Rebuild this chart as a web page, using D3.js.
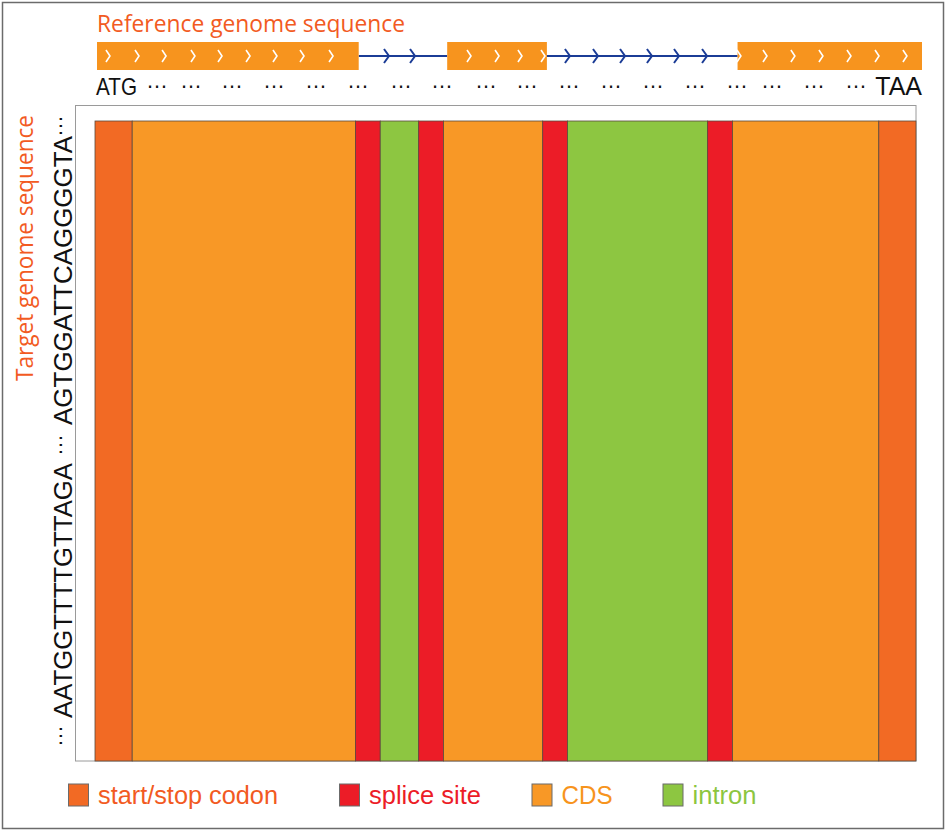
<!DOCTYPE html>
<html>
<head>
<meta charset="utf-8">
<script src="https://cdn.jsdelivr.net/npm/d3@7"></script>
<style>
  body { margin: 0; background: #fff; }
  svg { display: block; }
</style>
</head>
<body>
<svg id="chart" width="947" height="834"></svg>
<script>
// segments of the aligned gene, lengths in bp (left to right)
const segTypes   = ["start", "cds", "splice", "intron", "splice", "cds", "splice", "intron", "splice", "cds", "stop"];
const segLengths = [3, 18, 2, 3.1, 2, 8, 2, 11.3, 2, 11.8, 3];

// reference gene model: which segments form each exon / intron
const exonGroups   = [[0, 1], [5, 5], [9, 10]];
const intronGroups = [[2, 4], [6, 8]];

// direction marks along the reference model (bp)
const exonChevrons = [0.88, 3.21, 5.38, 7.70, 9.87, 12.12, 14.28, 16.45, 18.78,
                      29.85, 32.10, 33.94, 35.79,
                      51.51, 53.60, 55.84, 58.09, 60.34, 62.59, 64.83];
const intronArrows = [23.27, 25.36, 37.79, 40.04, 42.21, 44.37, 46.54, 48.79];

// "..." placeholders under the reference model (bp)
const refDots = [4.81, 7.54, 10.83, 14.20, 17.57, 20.94, 24.39, 27.68, 31.21, 34.50,
                 37.87, 41.24, 44.61, 47.98, 51.35, 54.16, 57.53, 60.90];

// target sequence pieces, bottom to top, with offset along the axis and length
const targetPieces  = ["…", "AATGGTTTTGTTAGA", "…", "AGTGGATTCAGGGGTA", "…"];
const targetOffsets = [3, 32, 294, 325, 613];
const targetLengths = [null, 255, null, 289, null];

const legendKeys   = ["start", "splice", "cds", "intron"];
const legendLabels = ["start/stop codon", "splice site", "CDS", "intron"];

const fillColor = {
  start: "#f26a24", stop: "#f26a24", cds: "#f89826",
  splice: "#ec1c27", intron: "#8dc641"
};
const textColor = {
  start: "#f25a22", splice: "#ec1c27", cds: "#f7941d", intron: "#8dc63f"
};

const svg = d3.select("#chart");

// cumulative segment positions
let acc = 0;
const segments = segLengths.map((len, i) => {
  const s = { type: segTypes[i], start: acc, end: acc + len };
  acc += len;
  return s;
});
const total = acc;

const x = d3.scaleLinear().domain([0, total]).range([95, 916]);
const xRef = d3.scaleLinear().domain([0, total]).range([97, 922]);
const y = d3.scaleLinear().domain([0, 1]).range([761, 121]);

// outer border
svg.append("rect")
  .attr("x", 2.5).attr("y", 2.5)
  .attr("width", 941).attr("height", 826)
  .attr("fill", "none")
  .attr("stroke", "#6b6b6b")
  .attr("stroke-width", 1.5);

// dot plot frame
svg.append("rect")
  .attr("x", 75.5).attr("y", 105.5)
  .attr("width", 840.5).attr("height", 655.5)
  .attr("fill", "none")
  .attr("stroke", "#9a9a9a")
  .attr("stroke-width", 1);

// aligned segments
svg.append("g").selectAll("rect")
  .data(segments)
  .join("rect")
  .attr("x", d => x(d.start))
  .attr("y", y(1))
  .attr("width", d => x(d.end) - x(d.start))
  .attr("height", y(0) - y(1))
  .attr("fill", d => fillColor[d.type])
  .attr("stroke", "#5b4a3c")
  .attr("stroke-width", 0.8);

// ---- reference gene model on top ----
const model = svg.append("g");
const lineY = 56;

const introns = intronGroups.map(g => ({ start: segments[g[0]].start, end: segments[g[1]].end }));
model.selectAll("line.intron")
  .data(introns)
  .join("line")
  .attr("class", "intron")
  .attr("x1", d => xRef(d.start)).attr("x2", d => xRef(d.end))
  .attr("y1", lineY).attr("y2", lineY)
  .attr("stroke", "#1b3c96")
  .attr("stroke-width", 2);

model.selectAll("path.arrow")
  .data(intronArrows)
  .join("path")
  .attr("class", "arrow")
  .attr("d", d => `M${xRef(d) - 3},${lineY - 7} L${xRef(d) + 2},${lineY} L${xRef(d) - 3},${lineY + 7}`)
  .attr("fill", "none")
  .attr("stroke", "#1b3c96")
  .attr("stroke-width", 2);

const exons = exonGroups.map(g => ({ start: segments[g[0]].start, end: segments[g[1]].end }));
model.selectAll("rect.exon")
  .data(exons)
  .join("rect")
  .attr("class", "exon")
  .attr("x", d => xRef(d.start))
  .attr("y", 42)
  .attr("width", d => xRef(d.end) - xRef(d.start))
  .attr("height", 28)
  .attr("fill", "#f7941e");

model.selectAll("path.chev")
  .data(exonChevrons)
  .join("path")
  .attr("class", "chev")
  .attr("d", d => `M${xRef(d) - 2},${lineY - 6} L${xRef(d) + 2},${lineY} L${xRef(d) - 2},${lineY + 6}`)
  .attr("fill", "none")
  .attr("stroke", "#fff")
  .attr("stroke-width", 1.6);

svg.append("text")
  .attr("x", 97).attr("y", 32)
  .attr("font-family", "Open Sans, Noto Sans, sans-serif")
  .attr("font-size", 23)
  .attr("fill", "#f25a22")
  .attr("textLength", 308)
  .attr("lengthAdjust", "spacingAndGlyphs")
  .text("Reference genome sequence");

const seqFont = "Liberation Sans, Arial, sans-serif";

svg.append("text")
  .attr("x", 96).attr("y", 95)
  .attr("font-family", seqFont)
  .attr("font-size", 24)
  .attr("fill", "#111")
  .attr("textLength", 41)
  .attr("lengthAdjust", "spacingAndGlyphs")
  .text("ATG");

svg.append("text")
  .attr("x", 922).attr("y", 95)
  .attr("text-anchor", "end")
  .attr("font-family", seqFont)
  .attr("font-size", 25)
  .attr("fill", "#111")
  .text("TAA");

svg.append("g").selectAll("text")
  .data(refDots)
  .join("text")
  .attr("x", d => xRef(d))
  .attr("y", 88)
  .attr("text-anchor", "middle")
  .attr("font-family", seqFont)
  .attr("font-size", 22)
  .attr("fill", "#111")
  .text("…");

// ---- target sequence on the left (rotated) ----
svg.append("text")
  .attr("transform", "translate(33,381) rotate(-90)")
  .attr("font-family", "Open Sans, Noto Sans, sans-serif")
  .attr("font-size", 23)
  .attr("fill", "#f25a22")
  .attr("textLength", 266)
  .attr("lengthAdjust", "spacingAndGlyphs")
  .text("Target genome sequence");

const target = svg.append("g")
  .attr("transform", "translate(72,750) rotate(-90)");

target.selectAll("text")
  .data(targetPieces)
  .join("text")
  .attr("x", (d, i) => targetOffsets[i])
  .attr("y", d => d === "…" ? -10 : 0)
  .attr("font-family", seqFont)
  .attr("font-size", d => d === "…" ? 22 : 25)
  .attr("fill", "#111")
  .each(function (d, i) {
    if (targetLengths[i]) {
      d3.select(this)
        .attr("textLength", targetLengths[i])
        .attr("lengthAdjust", "spacingAndGlyphs");
    }
  })
  .text(d => d);

// ---- legend ----
const legendX = [68.5, 339.5, 532, 663];
const legend = svg.append("g").selectAll("g")
  .data(legendKeys)
  .join("g")
  .attr("transform", (d, i) => `translate(${legendX[i]},784)`);

legend.append("rect")
  .attr("width", 20).attr("height", 22)
  .attr("fill", d => fillColor[d])
  .attr("stroke", "#6b6b6b")
  .attr("stroke-width", 1);

const legendW = [180, 112, 51, 64];
legend.append("text")
  .attr("x", 29.5).attr("y", 20)
  .attr("font-family", seqFont)
  .attr("font-size", 25)
  .attr("fill", d => textColor[d])
  .attr("textLength", (d, i) => legendW[i])
  .attr("lengthAdjust", "spacingAndGlyphs")
  .text((d, i) => legendLabels[i]);
</script>
</body>
</html>
